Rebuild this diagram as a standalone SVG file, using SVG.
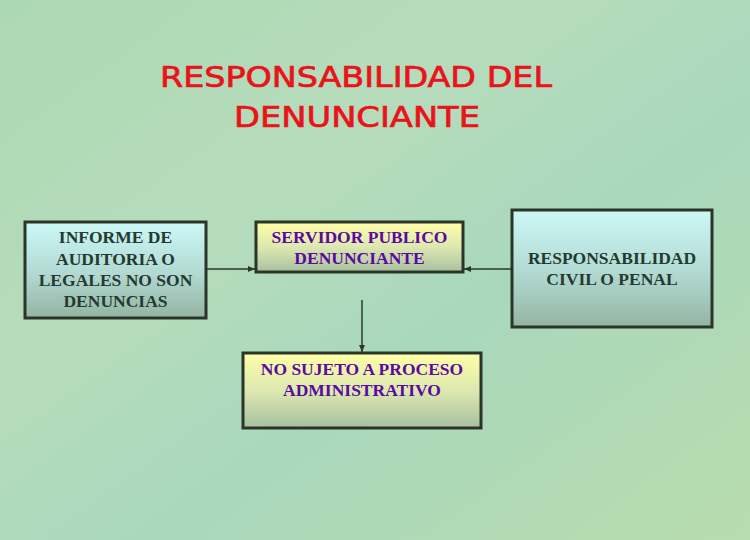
<svg xmlns="http://www.w3.org/2000/svg" width="750" height="540" viewBox="0 0 750 540">
<defs>
<linearGradient id="bg" x1="0" y1="0" x2="1" y2="1">
<stop offset="0" stop-color="#acd8b2"/>
<stop offset="0.35" stop-color="#b6dcbc"/>
<stop offset="0.6" stop-color="#a9d8bc"/>
<stop offset="1" stop-color="#b8dcae"/>
</linearGradient>
<linearGradient id="cyan" x1="0" y1="0" x2="0" y2="1">
<stop offset="0" stop-color="#ccf8f6"/>
<stop offset="0.5" stop-color="#b4dcd6"/>
<stop offset="1" stop-color="#94b4a2"/>
</linearGradient>
<linearGradient id="yellow" x1="0" y1="0" x2="0" y2="1">
<stop offset="0" stop-color="#ffffa8"/>
<stop offset="0.5" stop-color="#dde8b0"/>
<stop offset="1" stop-color="#a8c0a0"/>
</linearGradient>
<marker id="ah" markerWidth="8" markerHeight="8" refX="7" refY="4" orient="auto" markerUnits="userSpaceOnUse">
<path d="M0,1 L7,4 L0,7 Z" fill="#2a3a2a"/>
</marker>
<style>
.box{stroke:#2a3428;stroke-width:3}
.t{font-family:"Liberation Serif","Times New Roman",serif;font-weight:bold;font-size:17.5px;text-anchor:middle}
.dk{fill:#233a30}
.pu{fill:#5a0aa0}
.title{font-family:"DejaVu Sans","Liberation Sans",sans-serif;font-size:29px;fill:#e8141a;stroke:#e8141a;stroke-width:0.7;text-anchor:middle}
.c{stroke:#2a3a2a;stroke-width:1.5;fill:none}
</style>
</defs>
<rect width="750" height="540" fill="url(#bg)"/>
<g id="title">
<text class="title" x="356" y="87" textLength="392" lengthAdjust="spacingAndGlyphs">RESPONSABILIDAD DEL</text>
<text class="title" x="357" y="127" textLength="246" lengthAdjust="spacingAndGlyphs">DENUNCIANTE</text>
</g>
<g id="connectors">
<line class="c" x1="207" y1="269" x2="255" y2="269" marker-end="url(#ah)"/>
<line class="c" x1="511" y1="269" x2="464" y2="269" marker-end="url(#ah)"/>
<line class="c" x1="362" y1="300" x2="362" y2="352" marker-end="url(#ah)"/>
</g>
<g id="informe">
<rect class="box" x="25" y="222" width="181" height="96" fill="url(#cyan)"/>
<text class="t dk" x="115.5" y="243">INFORME DE</text>
<text class="t dk" x="115.5" y="265">AUDITORIA O</text>
<text class="t dk" x="115.5" y="286">LEGALES NO SON</text>
<text class="t dk" x="115.5" y="307">DENUNCIAS</text>
</g>
<g id="servidor">
<rect class="box" x="256" y="222" width="207" height="50" fill="url(#yellow)"/>
<text class="t pu" x="359.5" y="243">SERVIDOR PUBLICO</text>
<text class="t pu" x="359.5" y="264">DENUNCIANTE</text>
</g>
<g id="responsabilidad">
<rect class="box" x="512" y="210" width="200" height="117" fill="url(#cyan)"/>
<text class="t dk" x="612" y="264">RESPONSABILIDAD</text>
<text class="t dk" x="612" y="285">CIVIL O PENAL</text>
</g>
<g id="nosujeto">
<rect class="box" x="243" y="353" width="238" height="75" fill="url(#yellow)"/>
<text class="t pu" x="362" y="375">NO SUJETO A PROCESO</text>
<text class="t pu" x="362" y="396">ADMINISTRATIVO</text>
</g>
</svg>
